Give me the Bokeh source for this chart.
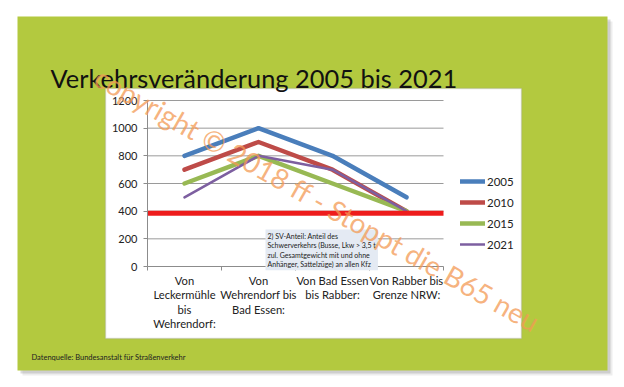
from bokeh.plotting import figure
from bokeh.models import (BoxAnnotation, Label, Legend, LegendItem, FixedTicker,
                          Range1d, LinearAxis)
from bokeh.embed import file_html
from bokeh.resources import INLINE

# ---- data ----
categories = ["Von\nLeckermühle\nbis\nWehrendorf:",
              "Von\nWehrendorf bis\nBad Essen:",
              "Von Bad Essen\nbis Rabber:",
              "Von Rabber bis\nGrenze NRW:"]
years = ["2005", "2010", "2015", "2021"]
v2005 = [800, 1000, 800, 500]
v2010 = [700, 900, 700, 400]
v2015 = [600, 800, 600, 400]
v2021 = [500, 800, 700, 400]
limit_value = 385
y_ticks = [0, 200, 400, 600, 800, 1000, 1200]

title_text = "Verkehrsveränderung 2005 bis 2021"
note_text = (" 2) SV-Anteil: Anteil des\nSchwerverkehrs (Busse, Lkw > 3,5 t\n"
             "zul. Gesamtgewicht mit und ohne\nAnhänger, Sattelzüge) an allen Kfz")
source_text = "Datenquelle: Bundesanstalt für Straßenverkehr"
watermark_text = "copyright © 2018 ff - Stoppt die B65 neu"

FONT = "Lato"
W, H = 616, 379
# plot-area placement inside the canvas (pixels)
PL, PR, PT, PB = 147, 443, 100, 266

n = len(categories)
ymax = y_ticks[-1]
xpx = (PR - PL) / n
ypx = (PB - PT) / ymax
x_range = Range1d(-PL / xpx, (W - PL) / xpx)
y_range = Range1d(-(H - PB) / ypx, PB / ypx)

xs = [i + 0.5 for i in range(n)]

p = figure(width=W, height=H, output_backend="svg", toolbar_location=None,
           x_range=x_range, y_range=y_range, x_axis_type=None, y_axis_type=None,
           min_border=0)
p.title.visible = False
p.border_fill_color = "white"
p.background_fill_color = "white"
p.outline_line_color = None
p.grid.visible = False


def canvas_box(l, r, t, b, **kw):
    return BoxAnnotation(left=l, right=r, top=t, bottom=b,
                         left_units="canvas", right_units="canvas",
                         top_units="canvas", bottom_units="canvas", level="image", **kw)


# slide shadow, slide, chart box
for off, a in [(5, 0.15), (3, 0.3)]:
    p.add_layout(canvas_box(17 + off, 607 + off, 16 + off, 370 + off,
                            fill_color="#888888", fill_alpha=a, line_color=None))
p.add_layout(canvas_box(17, 607, 16, 370, fill_color="#B3C93F", fill_alpha=1, line_color=None))
p.add_layout(canvas_box(105, 521, 88, 338, fill_color="white", fill_alpha=1,
                        line_color="#9A9A9A", line_width=1.5))

# grid lines
p.segment(x0=[0] * (len(y_ticks) - 1), x1=[n] * (len(y_ticks) - 1),
          y0=y_ticks[1:], y1=y_ticks[1:], line_color="#9A9A9A", line_width=1)

# axes fixed at the plot area's edges
yaxis = LinearAxis(fixed_location=0, bounds=(0, ymax), ticker=FixedTicker(ticks=y_ticks))
yaxis.major_tick_out = 4
yaxis.major_tick_in = 0
yaxis.minor_tick_line_color = None
yaxis.axis_line_color = "#8C8C8C"
yaxis.major_tick_line_color = "#8C8C8C"
yaxis.major_label_text_font = FONT
yaxis.major_label_text_font_size = "11px"
yaxis.major_label_text_color = "#222222"
yaxis.major_label_standoff = 6
p.add_layout(yaxis, "left")

xaxis = LinearAxis(fixed_location=0, bounds=(0, n),
                   ticker=FixedTicker(ticks=xs, minor_ticks=list(range(n + 1))))
xaxis.major_label_overrides = {x: c for x, c in zip(xs, categories)}
xaxis.major_tick_line_color = None
xaxis.minor_tick_out = 4
xaxis.minor_tick_in = 0
xaxis.minor_tick_line_color = "#8C8C8C"
xaxis.axis_line_color = "#8C8C8C"
xaxis.major_label_text_font = FONT
xaxis.major_label_text_font_size = "11.2px"
xaxis.major_label_text_line_height = 1.12
xaxis.major_label_text_color = "#222222"
xaxis.major_label_standoff = 1
p.add_layout(xaxis, "below")

# series
series = [(v2005, "#4A7EBB", 4.5), (v2010, "#BE4B48", 4.5),
          (v2015, "#98B954", 4.5), (v2021, "#7D5FA0", 2.5)]
items = []
for yr, (vals, col, lw) in zip(years, series):
    r = p.line(xs, vals, line_color=col, line_width=lw, line_join="round", line_cap="round")
    items.append(LegendItem(label=yr, renderers=[r]))

p.line([0, n], [limit_value, limit_value], line_color="#EE1C1C", line_width=5)

legend = Legend(items=items, location=(460, H - 253), padding=0, margin=0,
                border_line_color=None, background_fill_alpha=0,
                glyph_width=25, glyph_height=18, label_height=18, spacing=3,
                label_standoff=2, label_text_font=FONT, label_text_font_size="11.5px",
                label_text_color="#222222")
p.add_layout(legend, "center")

# texts
p.add_layout(Label(x=50, y=77, x_units="canvas", y_units="canvas", text=title_text,
                   text_font=FONT, text_font_size="25.4px", text_color="#111111",
                   text_baseline="alphabetic"))
p.add_layout(Label(x=265, y=229, x_units="canvas", y_units="canvas", text=note_text,
                   text_font=FONT, text_font_size="7px", text_color="#222222",
                   text_baseline="top", text_line_height=1.2,
                   background_fill_color="#E4EAF3", padding=2))
p.add_layout(Label(x=31, y=357, x_units="canvas", y_units="canvas", text=source_text,
                   text_font=FONT, text_font_size="7.5px", text_color="#222222",
                   text_baseline="middle"))
p.add_layout(Label(x=97, y=74, x_units="canvas", y_units="canvas", text=watermark_text,
                   angle=-0.515, text_font=FONT, text_font_size="28px",
                   text_color="#F39A55", text_alpha=0.75, text_baseline="alphabetic",
                   level="overlay"))

open("out.html", "w").write(file_html(p, INLINE))
